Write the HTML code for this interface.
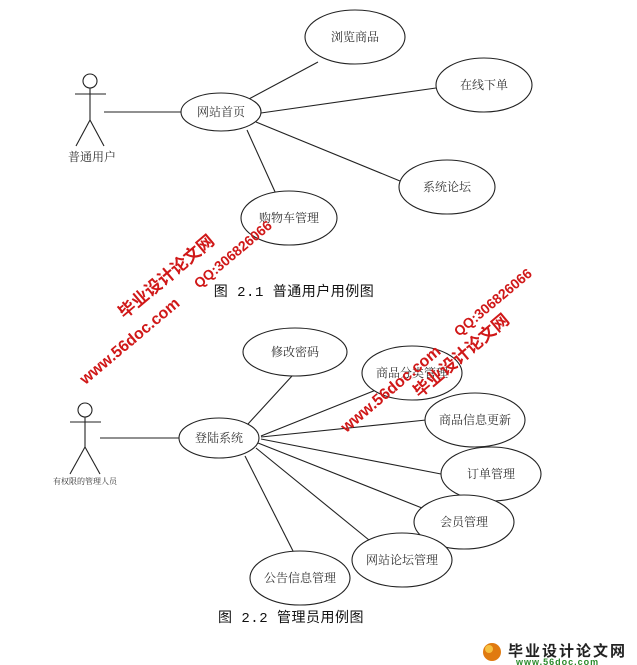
<!DOCTYPE html>
<html><head><meta charset="utf-8"><style>
html,body{margin:0;padding:0;background:#fff;width:637px;height:665px;overflow:hidden}
svg{display:block}
.t{font-family:"Liberation Serif","Noto Serif CJK SC",serif;font-size:12px;fill:#333;text-anchor:middle}
.c{font-family:"Liberation Mono","Noto Sans CJK SC",monospace;font-size:14px;fill:#111;text-anchor:middle;letter-spacing:0.5px}
.w{font-family:"Liberation Sans","Noto Sans CJK SC",sans-serif;font-weight:bold;fill:#d01818}
</style></head><body>
<svg width="637" height="665" viewBox="0 0 637 665" xmlns="http://www.w3.org/2000/svg">
<g stroke="#222" stroke-width="1.1" fill="none">
<circle cx="90" cy="81" r="7"/>
<line x1="75" y1="94" x2="106" y2="94"/>
<line x1="90" y1="88" x2="90" y2="120"/>
<line x1="90" y1="120" x2="76" y2="146"/>
<line x1="90" y1="120" x2="104" y2="146"/>
<line x1="104" y1="112" x2="181" y2="112"/>
<line x1="247" y1="100" x2="318" y2="62"/>
<line x1="261" y1="113" x2="436" y2="88"/>
<line x1="256" y1="122" x2="400" y2="181"/>
<line x1="247" y1="130" x2="276" y2="194"/>
<ellipse cx="355" cy="37" rx="50" ry="27" fill="#fff"/>
<ellipse cx="484" cy="85" rx="48" ry="27" fill="#fff"/>
<ellipse cx="221" cy="112" rx="40" ry="19" fill="#fff"/>
<ellipse cx="447" cy="187" rx="48" ry="27" fill="#fff"/>
<ellipse cx="289" cy="218" rx="48" ry="27" fill="#fff"/>
<circle cx="85" cy="410" r="7"/>
<line x1="70" y1="422" x2="101" y2="422"/>
<line x1="85" y1="417" x2="85" y2="447"/>
<line x1="85" y1="447" x2="70" y2="474"/>
<line x1="85" y1="447" x2="100" y2="474"/>
<line x1="100" y1="438" x2="179" y2="438"/>
<line x1="248" y1="424" x2="292" y2="376"/>
<line x1="261" y1="436" x2="376" y2="390"/>
<line x1="261" y1="437" x2="426" y2="420"/>
<line x1="261" y1="439" x2="441" y2="474"/>
<line x1="258" y1="443" x2="422" y2="508"/>
<line x1="256" y1="448" x2="369" y2="540"/>
<line x1="245" y1="456" x2="293" y2="551"/>
<ellipse cx="295" cy="352" rx="52" ry="24" fill="#fff"/>
<ellipse cx="412" cy="373" rx="50" ry="27" fill="#fff"/>
<ellipse cx="475" cy="420" rx="50" ry="27" fill="#fff"/>
<ellipse cx="219" cy="438" rx="40" ry="20" fill="#fff"/>
<ellipse cx="491" cy="474" rx="50" ry="27" fill="#fff"/>
<ellipse cx="464" cy="522" rx="50" ry="27" fill="#fff"/>
<ellipse cx="402" cy="560" rx="50" ry="27" fill="#fff"/>
<ellipse cx="300" cy="578" rx="50" ry="27" fill="#fff"/>
</g>
<text class="t" x="355" y="41">浏览商品</text>
<text class="t" x="484" y="89">在线下单</text>
<text class="t" x="221" y="116">网站首页</text>
<text class="t" x="447" y="191">系统论坛</text>
<text class="t" x="289" y="222">购物车管理</text>
<text class="t" x="92" y="161">普通用户</text>
<text class="c" x="294" y="296">图 2.1 普通用户用例图</text>
<text class="t" x="295" y="356">修改密码</text>
<text class="t" x="412" y="377">商品分类管理</text>
<text class="t" x="475" y="424">商品信息更新</text>
<text class="t" x="219" y="442">登陆系统</text>
<text class="t" x="491" y="478">订单管理</text>
<text class="t" x="464" y="526">会员管理</text>
<text class="t" x="402" y="564">网站论坛管理</text>
<text class="t" x="300" y="582">公告信息管理</text>
<text class="t" x="85" y="484" style="font-size:8px">有权限的管理人员</text>
<text class="c" x="291" y="622">图 2.2 管理员用例图</text>
<text class="w" font-size="17" transform="translate(170,281) rotate(-40)" text-anchor="middle">毕业设计论文网</text>
<text class="w" font-size="16" transform="translate(133,345) rotate(-40)" text-anchor="middle">www.56doc.com</text>
<text class="w" font-size="14" transform="translate(236,258) rotate(-40)" text-anchor="middle">QQ:306826066</text>
<text class="w" font-size="16" transform="translate(394,393) rotate(-40)" text-anchor="middle">www.56doc.com</text>
<text class="w" font-size="17" transform="translate(465,360) rotate(-40)" text-anchor="middle">毕业设计论文网</text>
<text class="w" font-size="14" transform="translate(496,306) rotate(-40)" text-anchor="middle">QQ:306826066</text>
<circle cx="492" cy="652" r="9" fill="#e07a10"/>
<circle cx="489" cy="649" r="4" fill="#f6c040"/>
<text x="508" y="656" style="font-family:'Liberation Sans','Noto Sans CJK SC',sans-serif;font-weight:bold;font-size:15px;fill:#222;letter-spacing:2px">毕业设计论文网</text>
<text x="516" y="665" style="font-family:'Liberation Sans',sans-serif;font-weight:bold;font-size:9px;fill:#2a8a2a;letter-spacing:1px">www.56doc.com</text>
</svg>
</body></html>
